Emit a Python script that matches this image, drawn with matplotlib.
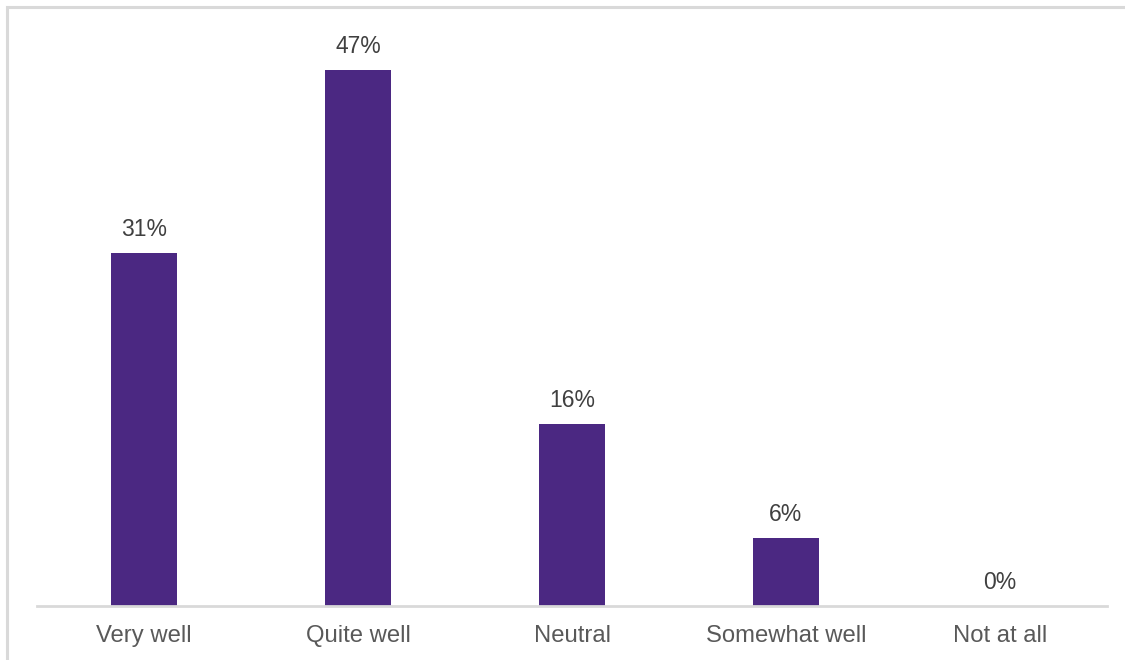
import matplotlib
matplotlib.use("Agg")
import matplotlib.pyplot as plt
from matplotlib.patches import Rectangle

categories = ["Very well", "Quite well", "Neutral", "Somewhat well", "Not at all"]
values = [31, 47, 16, 6, 0]
value_labels = ["31%", "47%", "16%", "6%", "0%"]

plt.rcParams['font.family'] = ['Liberation Sans', 'DejaVu Sans']

W, H = 1125, 660
fig = plt.figure(figsize=(W / 100, H / 100), dpi=100)

# outer light-gray frame (partially off-canvas)
fig.patches.append(Rectangle((7 / W, -0.1), 1.2, (H - 7) / H + 0.1, transform=fig.transFigure,
                             fill=False, edgecolor='#D9D9D9', linewidth=2.2, zorder=0))

ax = fig.add_axes([37 / W, 54 / H, 1070 / W, 570 / H])
x = range(len(categories))
bars = ax.bar(x, values, width=0.313, color='#4B2882', zorder=2)
ax.set_xlim(-0.5, len(categories) - 0.5)
ax.set_ylim(0, 50)

for xi, v, lab in zip(x, values, value_labels):
    ax.annotate(lab, (xi, v), xytext=(0, 8.5), textcoords='offset points',
                ha='center', va='bottom', fontsize=16.5, color='#404040')

ax.set_xticks(list(x))
ax.set_xticklabels(categories, fontsize=17.2, color='#595959')
ax.tick_params(axis='x', length=0, pad=13.5)
ax.set_yticks([])
for s in ['top', 'right', 'left']:
    ax.spines[s].set_visible(False)
ax.spines['bottom'].set_color('#D9D9D9')
ax.spines['bottom'].set_linewidth(2)
ax.patch.set_visible(False)

fig.savefig("out.png", dpi=100)
